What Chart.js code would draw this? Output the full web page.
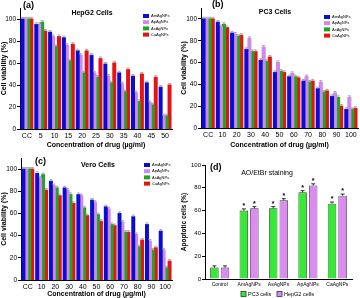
<!DOCTYPE html>
<html>
<head>
<meta charset="utf-8">
<script src="https://cdn.jsdelivr.net/npm/chart.js@4.4.1/dist/chart.umd.min.js"></script>
<style>
  body { margin: 0; background: #fff; width: 360px; height: 298px; overflow: hidden; position: relative; }
  canvas { position: absolute; }
</style>
</head>
<body>
<canvas id="chartA" width="180" height="149" style="left:0;top:0"></canvas>
<canvas id="chartB" width="180" height="149" style="left:180px;top:0"></canvas>
<canvas id="chartC" width="180" height="150" style="left:0;top:148px"></canvas>
<canvas id="chartD" width="180" height="150" style="left:180px;top:148px"></canvas>
<script>
const hepLabels = ['CC', '5', '10', '15', '20', '25', '30', '35', '40', '45', '50'];
const hepAm = [100, 95, 88, 83, 71, 67, 59, 51, 48, 42, 38];
const hepAp = [100, 95, 84, 76, 67, 51, 48, 41, 33, 24, 12];
const hepAs = [100, 97, 75, 62, 51, 47, 42, 34, 25, 22, 12];
const hepCa = [100, 89, 84, 77, 71, 64, 60, 54, 50, 47, 40];

const concLabels = ['CC', '10', '20', '30', '40', '50', '60', '70', '80', '90', '100'];
const pc3Am = [100, 97, 87, 72, 62, 51, 47, 43, 36, 29, 17];
const pc3Ap = [100, 93, 86, 82, 74, 60, 50, 47, 42, 32, 28];
const pc3As = [100, 95, 84, 70, 61, 52, 47, 42, 33, 28, 17];
const pc3Ca = [100, 92, 85, 70, 65, 51, 46, 43, 34, 20, 18];

const veroAm = [100, 96, 89, 83, 77, 72, 66, 60, 57, 50, 44];
const veroAp = [100, 92, 85, 81, 76, 70, 64, 52, 41, 35, 27];
const veroAs = [100, 95, 83, 77, 65, 59, 50, 43, 30, 27, 11];
const veroCa = [100, 81, 76, 69, 58, 53, 49, 43, 36, 29, 17];

const apoLabels = ['Control', 'AmAgNPs', 'AsAgNPs', 'ApAgNPs', 'CaAgNPs'];
const apoPC3 = [10, 60, 62, 76, 66];
const apoHep = [10, 62, 69, 82, 73];
const apoStar = [false, true, true, true, true];

const viabilityTicks = [0, 20, 40, 60, 80, 100];
const ERR = 1.5;

const FONT = '"Liberation Sans", Arial, sans-serif';
Chart.defaults.font.family = FONT;
Chart.defaults.color = '#000';

// small error bars (and stars) on top of every bar
const errorBars = {
  id: 'errorBars',
  afterDatasetsDraw(chart, args, o) {
    const ctx = chart.ctx;
    const y = chart.scales.y;
    chart.data.datasets.forEach((ds, i) => {
      chart.getDatasetMeta(i).data.forEach((bar, j) => {
        const top = y.getPixelForValue(ds.data[j] + o.err);
        ctx.save();
        ctx.strokeStyle = o.color;
        ctx.lineWidth = 0.8;
        ctx.beginPath();
        ctx.moveTo(bar.x, bar.y);
        ctx.lineTo(bar.x, top);
        ctx.moveTo(bar.x - o.cap, top);
        ctx.lineTo(bar.x + o.cap, top);
        ctx.stroke();
        if (o.stars && o.stars[j]) {
          ctx.fillStyle = '#000';
          ctx.font = 'bold 7px ' + FONT;
          ctx.textAlign = 'center';
          ctx.fillText('*', bar.x, top - 1);
        }
        ctx.restore();
      });
    });
  }
};

// panel tag, title and the little legend
const panelText = {
  id: 'panelText',
  afterDraw(chart, args, o) {
    const ctx = chart.ctx;
    ctx.save();
    ctx.fillStyle = '#000';
    ctx.textBaseline = 'middle';
    ctx.font = 'bold 9px ' + FONT;
    ctx.fillText(o.tag, o.tagX, o.tagY);
    ctx.font = o.titleFont;
    ctx.textAlign = 'center';
    ctx.fillText(o.title, o.titleX, o.titleY);
    ctx.textAlign = 'left';
    ctx.font = o.legendFont;
    chart.data.datasets.forEach((ds, i) => {
      const lx = o.legendX + i * o.legendDx;
      const ly = o.legendY + i * o.legendDy;
      ctx.fillStyle = ds.backgroundColor;
      ctx.fillRect(lx, ly - o.boxH / 2, o.boxW, o.boxH);
      if (ds.borderWidth) {
        ctx.strokeStyle = ds.borderColor;
        ctx.lineWidth = 0.8;
        ctx.strokeRect(lx, ly - o.boxH / 2, o.boxW, o.boxH);
      }
      ctx.fillStyle = '#000';
      ctx.fillText(ds.label, lx + o.boxW + 2, ly);
    });
    ctx.restore();
  }
};

function viabilityChart(id, labels, am, ap, as, ca, box, text) {
  return new Chart(document.getElementById(id), {
    type: 'bar',
    data: {
      labels: labels,
      datasets: [
        { label: 'AmAgNPs', data: am, backgroundColor: '#0b0bd6' },
        { label: 'ApAgNPs', data: ap, backgroundColor: '#cf8ae8' },
        { label: 'AsAgNPs', data: as, backgroundColor: '#1fa51f' },
        { label: 'CaAgNPs', data: ca, backgroundColor: '#e81212' }
      ]
    },
    options: {
      responsive: false,
      animation: false,
      devicePixelRatio: 1,
      layout: { padding: { top: box.top, right: box.right, left: 0, bottom: 0 } },
      datasets: { bar: { categoryPercentage: 0.86, barPercentage: 1, borderWidth: 0, inflateAmount: 0.5 } },
      scales: {
        x: {
          grid: { display: false, drawTicks: false },
          border: { color: '#000', width: 1 },
          ticks: { font: { size: 7 }, color: '#000', padding: 3, maxRotation: 0, autoSkip: false },
          title: { display: true, text: 'Concentration of drug (µg/ml)', font: { size: 7, weight: 'bold' }, color: '#000', padding: 0 },
          afterFit: s => { s.height = box.xh; }
        },
        y: {
          min: 0,
          max: 110,
          afterBuildTicks: s => { s.ticks = viabilityTicks.map(v => ({ value: v })); },
          ticks: { font: { size: 6.5 }, color: '#000', padding: 1 },
          grid: { drawOnChartArea: false, tickLength: 3, color: '#000' },
          border: { color: '#000', width: 1 },
          title: { display: true, text: 'Cell viability (%)', font: { size: 7, weight: 'bold' }, color: '#000', padding: 0 },
          afterFit: s => { s.width = box.yw; }
        }
      },
      plugins: {
        legend: { display: false },
        tooltip: { enabled: false },
        errorBars: { err: ERR, cap: 1.5, color: '#9a9a9a' },
        panelText: Object.assign({
          titleFont: 'bold 7px ' + FONT,
          legendFont: '4px ' + FONT,
          legendDx: 0, legendDy: 6.2, boxW: 6, boxH: 4
        }, text)
      }
    },
    plugins: [errorBars, panelText]
  });
}

viabilityChart('chartA', hepLabels, hepAm, hepAp, hepAs, hepCa,
  { top: 8, right: 8, yw: 20, xh: 20 },
  { tag: '(a)', tagX: 23, tagY: 6, title: 'HepG2 Cells', titleX: 92, titleY: 13, legendX: 143, legendY: 16 });

viabilityChart('chartB', concLabels, pc3Am, pc3Ap, pc3As, pc3Ca,
  { top: 8, right: 2, yw: 21, xh: 21 },
  { tag: '(b)', tagX: 32, tagY: 5, title: 'PC3 Cells', titleX: 95, titleY: 12, legendX: 144, legendY: 17 });

viabilityChart('chartC', concLabels, veroAm, veroAp, veroAs, veroCa,
  { top: 10, right: 8, yw: 21, xh: 18 },
  { tag: '(c)', tagX: 35, tagY: 14, title: 'Vero Cells', titleX: 98, titleY: 17, legendX: 144, legendY: 17 });

new Chart(document.getElementById('chartD'), {
  type: 'bar',
  data: {
    labels: apoLabels,
    datasets: [
      { label: 'PC3 cells', data: apoPC3, backgroundColor: '#35ea35', borderColor: '#333', borderWidth: 0.8 },
      { label: 'HepG2 cells', data: apoHep, backgroundColor: '#db8cf0', borderColor: '#333', borderWidth: 0.8 }
    ]
  },
  options: {
    responsive: false,
    animation: false,
    devicePixelRatio: 1,
    layout: { padding: { top: 17, right: 8, left: 0, bottom: 0 } },
    datasets: { bar: { categoryPercentage: 0.72, barPercentage: 0.8 } },
    scales: {
      x: {
        grid: { display: false, drawTicks: false },
        border: { color: '#000', width: 1 },
        ticks: { font: { size: 5 }, color: '#000', padding: 3, maxRotation: 0, autoSkip: false },
        afterFit: s => { s.height = 19; }
      },
      y: {
        min: 0,
        max: 100,
        ticks: { stepSize: 20, font: { size: 6 }, color: '#000', padding: 1 },
        grid: { drawOnChartArea: false, tickLength: 3, color: '#000' },
        border: { color: '#000', width: 1 },
        title: { display: true, text: 'Apoptotic cells (%)', font: { size: 6.5, weight: 'bold' }, color: '#000', padding: 0 },
        afterFit: s => { s.width = 25; }
      }
    },
    plugins: {
      legend: { display: false },
      tooltip: { enabled: false },
      errorBars: { err: ERR, cap: 2, color: '#000', stars: apoStar },
      panelText: {
        tag: '(d)', tagX: 30, tagY: 20,
        title: 'AO/EtBr staining', titleX: 87, titleY: 25, titleFont: '7px ' + FONT,
        legendFont: '5.5px ' + FONT, legendX: 61, legendY: 146, legendDx: 36, legendDy: 0, boxW: 5, boxH: 5
      }
    }
  },
  plugins: [errorBars, panelText]
});
</script>
</body>
</html>
